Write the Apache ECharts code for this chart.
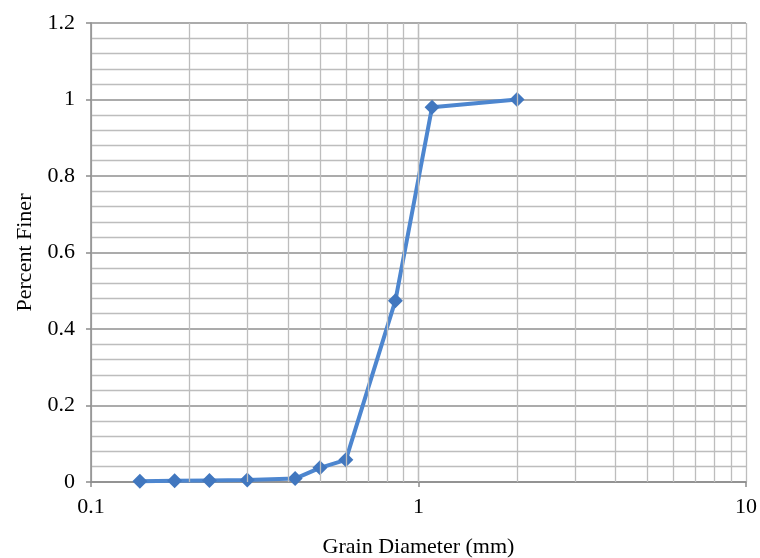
<!DOCTYPE html>
<html>
<head>
<meta charset="utf-8">
<script src="https://cdn.jsdelivr.net/npm/echarts@6/dist/echarts.min.js"></script>
<style>
html,body{margin:0;padding:0;background:#fff;}
#chart{width:760px;height:558px;}
</style>
</head>
<body>
<div id="chart"></div>
<script>
// Data
const grainDiameter = [0.141, 0.18, 0.23, 0.30, 0.42, 0.50, 0.60, 0.85, 1.1, 2.0];
const percentFiner = [0.002, 0.003, 0.004, 0.005, 0.009, 0.037, 0.058, 0.474, 0.98, 1.0];
const xGridValues = [0.2, 0.3, 0.4, 0.5, 0.6, 0.7, 0.8, 0.9, 1, 2, 3, 4, 5, 6, 7, 8, 9];
const xTitle = 'Grain Diameter (mm)';
const yTitle = 'Percent Finer';

const font = '"Liberation Serif", "Times New Roman", serif';
const chart = echarts.init(document.getElementById('chart'), null, {renderer: 'canvas'});
chart.setOption({
  animation: false,
  backgroundColor: '#fff',
  grid: {left: 91, right: 14, top: 23, bottom: 76, containLabel: false, outerBoundsMode: 'none'},
  xAxis: {
    type: 'log', logBase: 10, min: 0.1, max: 10, interval: 1,
    axisLine: {show: true, lineStyle: {color: '#8c8c8c', width: 1.5}},
    axisTick: {show: true, length: 5, lineStyle: {color: '#8c8c8c', width: 1.5}},
    axisLabel: {color: '#000', fontFamily: font, fontSize: 22, margin: 14,
      formatter: v => String(+v.toPrecision(3))},
    splitLine: {show: true, lineStyle: {color: '#bdbdbd', width: 1.3}},
    name: xTitle, nameLocation: 'middle', nameGap: 54,
    nameTextStyle: {color: '#000', fontFamily: font, fontSize: 22}
  },
  yAxis: {
    type: 'value', min: 0, max: 1.2, interval: 0.2,
    axisLine: {show: true, lineStyle: {color: '#8c8c8c', width: 1.5}},
    axisTick: {show: true, length: 5, lineStyle: {color: '#8c8c8c', width: 1.5}},
    axisLabel: {color: '#000', fontFamily: font, fontSize: 22, margin: 16,
      formatter: v => String(+v.toFixed(2))},
    splitLine: {show: true, lineStyle: {color: '#8f8f8f', width: 1.5}},
    minorTick: {show: false, splitNumber: 5},
    minorSplitLine: {show: true, lineStyle: {color: '#bdbdbd', width: 1.3}},
    name: yTitle, nameLocation: 'middle', nameGap: 55,
    nameTextStyle: {color: '#000', fontFamily: font, fontSize: 22}
  },
  series: [
    {
      type: 'line', data: [], z: 1, silent: true,
      markLine: {
        silent: true, symbol: 'none', label: {show: false},
        lineStyle: {color: '#bdbdbd', width: 1.3, type: 'solid'},
        emphasis: {disabled: true},
        data: xGridValues.map(v => ({xAxis: v}))
      }
    },
    {
      type: 'line', z: 3,
      data: grainDiameter.map((x, i) => [x, percentFiner[i]]),
      symbol: 'diamond', symbolSize: 15,
      lineStyle: {color: '#4d86cf', width: 4},
      itemStyle: {color: '#4177bf'}
    }
  ]
});
</script>
</body>
</html>
